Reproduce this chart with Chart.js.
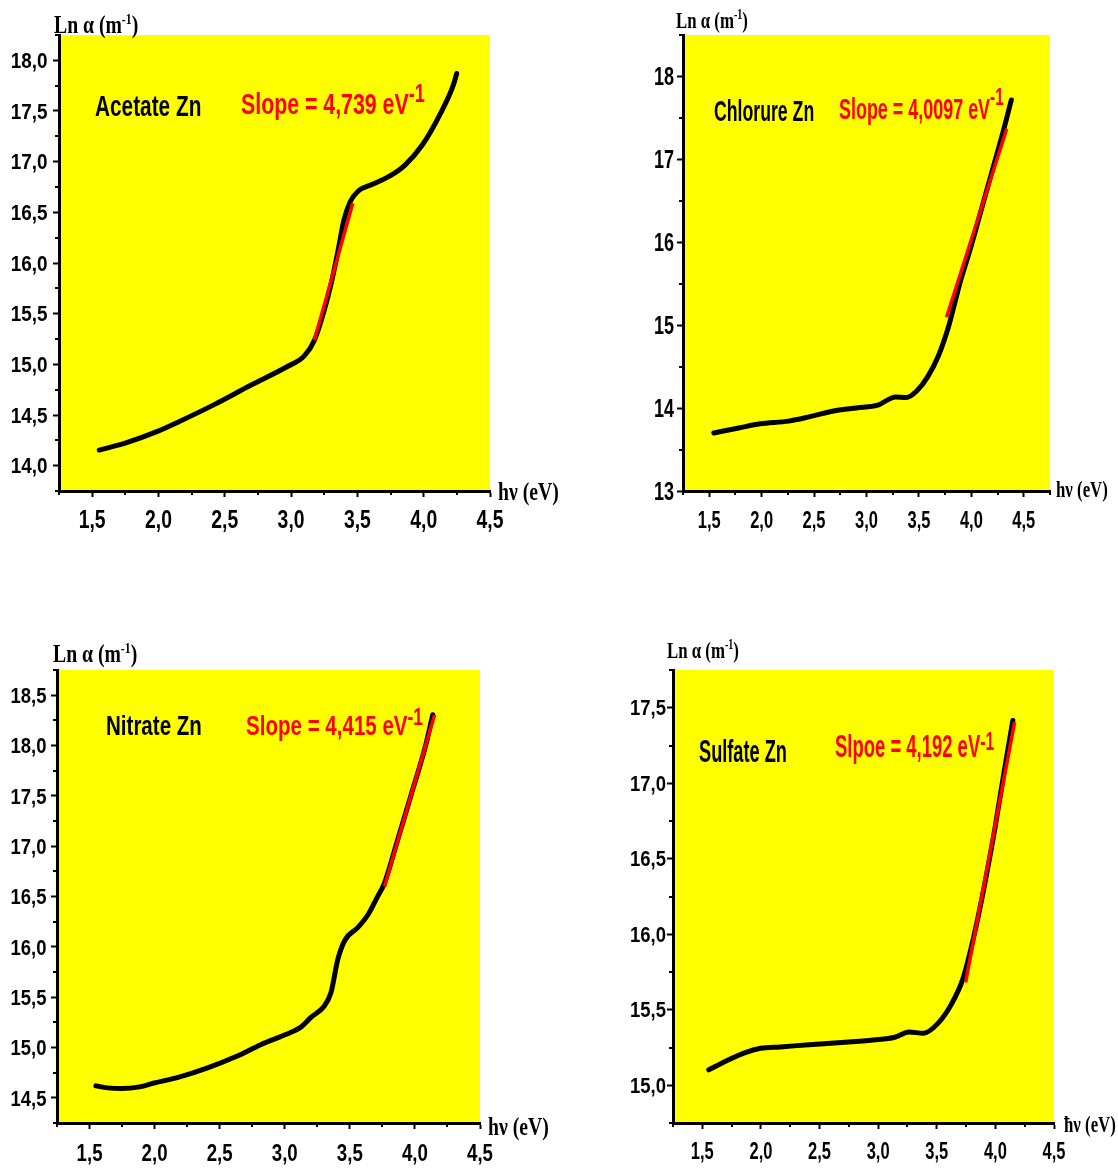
<!DOCTYPE html>
<html>
<head>
<meta charset="utf-8">
<script src="https://cdn.jsdelivr.net/npm/chart.js@4.4.1/dist/chart.umd.min.js"></script>
<style>
  html, body { margin: 0; padding: 0; background: #fff; }
  body { width: 1118px; height: 1169px; position: relative; overflow: hidden; }
  canvas { position: absolute; }
</style>
</head>
<body>
<canvas id="c1"></canvas>
<canvas id="c2"></canvas>
<canvas id="c3"></canvas>
<canvas id="c4"></canvas>
<script>
// ---- data (hv in eV, Ln alpha) ----
const acetateX = [1.554, 1.749, 1.992, 2.154, 2.424, 2.695, 2.965, 3.10, 3.176, 3.249, 3.303, 3.357, 3.397, 3.446, 3.505, 3.614, 3.749, 3.857, 3.992, 4.127, 4.222, 4.249];
const acetateY = [14.154, 14.222, 14.338, 14.434, 14.605, 14.793, 14.974, 15.084, 15.238, 15.528, 15.80, 16.14, 16.417, 16.605, 16.708, 16.776, 16.862, 16.964, 17.169, 17.477, 17.75, 17.87];
const acetateFitX = [3.176, 3.465];
const acetateFitY = [15.238, 16.59];

const chlorureX = [1.544, 1.782, 1.986, 2.258, 2.462, 2.70, 2.903, 3.107, 3.277, 3.379, 3.481, 3.583, 3.685, 3.787, 3.889, 3.99, 4.092, 4.194, 4.296, 4.381];
const chlorureY = [13.70, 13.76, 13.81, 13.843, 13.897, 13.968, 14.002, 14.035, 14.135, 14.127, 14.21, 14.377, 14.628, 15.003, 15.50, 15.92, 16.38, 16.84, 17.30, 17.716];
const chlorureFitX = [3.763, 4.337];
const chlorureFitY = [15.095, 17.37];

const nitrateX = [1.549, 1.637, 1.747, 1.885, 1.995, 2.187, 2.407, 2.626, 2.819, 3.011, 3.121, 3.203, 3.299, 3.354, 3.409, 3.464, 3.560, 3.643, 3.712, 3.766, 3.863, 3.973, 4.082, 4.137];
const nitrateY = [14.619, 14.599, 14.592, 14.609, 14.647, 14.705, 14.797, 14.91, 15.03, 15.131, 15.20, 15.302, 15.405, 15.541, 15.882, 16.07, 16.19, 16.326, 16.497, 16.633, 17.043, 17.52, 17.998, 18.305];
const nitrateFitX = [3.766, 4.151];
const nitrateFitY = [16.599, 18.305];

const sulfateX = [1.555, 1.708, 1.86, 1.997, 2.165, 2.409, 2.714, 2.959, 3.142, 3.264, 3.386, 3.508, 3.63, 3.722, 3.813, 3.905, 3.996, 4.072, 4.149];
const sulfateY = [15.102, 15.163, 15.215, 15.245, 15.254, 15.268, 15.284, 15.30, 15.318, 15.352, 15.345, 15.408, 15.544, 15.703, 15.975, 16.316, 16.701, 17.064, 17.416];
const sulfateFitX = [3.746, 4.164];
const sulfateFitY = [15.681, 17.405];

// tick labels
const xTicks = [1.5, 2.0, 2.5, 3.0, 3.5, 4.0, 4.5];
const yTicksAcetate = [14.0, 14.5, 15.0, 15.5, 16.0, 16.5, 17.0, 17.5, 18.0];
const yTicksChlorure = [13, 14, 15, 16, 17, 18];
const yTicksNitrate = [14.5, 15.0, 15.5, 16.0, 16.5, 17.0, 17.5, 18.0, 18.5];
const yTicksSulfate = [15.0, 15.5, 16.0, 16.5, 17.0, 17.5];

const sampleNames = ['Acetate Zn', 'Chlorure Zn', 'Nitrate Zn', 'Sulfate Zn'];
const slopeTexts = ['Slope = 4,739 eV', 'Slope = 4,0097 eV', 'Slope = 4,415 eV', 'Slpoe = 4,192 eV'];

// ---- layout of the four panels ----
const panels = [
  { id: 'c1', canvas: [0, 0, 559, 560], plot: [59, 35, 490, 491], x: [1.25, 4.5], y: [13.75, 18.25],
    yTicks: yTicksAcetate, yDec: 1, cx: acetateX, cy: acetateY, fx: acetateFitX, fy: acetateFitY,
    xLab: { sx: 0.88, sy: 1.14, dy: 36.5 }, yLab: { sx: 0.86, sy: 0.98, gap: 11.5 },
    nameAt: [36, 81], slopeAt: [182, 79], nameSx: 0.80, slopeSx: 0.82, textSy: 1.13, supRise: 12,
    titleSx: 0.82, titleSy: 1.08, yTitleAt: [-5, -2], xTitleAt: [8, 9] },
  { id: 'c2', canvas: [559, 0, 559, 560], plot: [683, 35, 1050, 491], x: [1.25, 4.75], y: [13, 18.5],
    yTicks: yTicksChlorure, yDec: 0, cx: chlorureX, cy: chlorureY, fx: chlorureFitX, fy: chlorureFitY,
    xLab: { sx: 0.75, sy: 1.08, dy: 36.5 }, yLab: { sx: 0.82, sy: 1.14, gap: 9 },
    nameAt: [31, 86], slopeAt: [156, 84], nameSx: 0.68, slopeSx: 0.69, textSy: 1.11, supRise: 14,
    titleSx: 0.70, titleSy: 0.98, yTitleAt: [-7, -7], xTitleAt: [6, 6] },
  { id: 'c3', canvas: [0, 560, 559, 609], plot: [57, 670, 480, 1123], x: [1.25, 4.5], y: [14.25, 18.75],
    yTicks: yTicksNitrate, yDec: 1, cx: nitrateX, cy: nitrateY, fx: nitrateFitX, fy: nitrateFitY,
    xLab: { sx: 0.85, sy: 1.08, dy: 37.5 }, yLab: { sx: 0.84, sy: 0.98, gap: 10.5 },
    nameAt: [49, 65], slopeAt: [189, 65], nameSx: 0.79, slopeSx: 0.79, textSy: 1.05, supRise: 10,
    titleSx: 0.82, titleSy: 1.08, yTitleAt: [-4, -8], xTitleAt: [8, 12] },
  { id: 'c4', canvas: [559, 560, 559, 609], plot: [673, 670, 1054, 1123], x: [1.25, 4.5], y: [14.75, 17.75],
    yTicks: yTicksSulfate, yDec: 1, cx: sulfateX, cy: sulfateY, fx: sulfateFitX, fy: sulfateFitY,
    xLab: { sx: 0.75, sy: 1.08, dy: 36 }, yLab: { sx: 0.84, sy: 0.98, gap: 7 },
    nameAt: [26, 92], slopeAt: [162, 87], nameSx: 0.70, slopeSx: 0.71, textSy: 1.18, supRise: 7,
    titleSx: 0.70, titleSy: 0.98, yTitleAt: [-6, -12], xTitleAt: [10, 9], hbar: true }
];

const X_AXIS_H = 40;
const sansFamily = 'Liberation Sans, Arial, sans-serif';
const serifFamily = 'Liberation Serif, Times New Roman, serif';

function pts(xs, ys) {
  return xs.map((x, i) => ({ x: x, y: ys[i] }));
}

function fmt(v, dec) {
  return v.toFixed(dec).replace('.', ',');
}

// text with superscripts, squeezed / stretched like the original figure
function drawRich(ctx, x, y, parts, family, size, sx, sy, color, align) {
  ctx.save();
  ctx.translate(x, y);
  ctx.scale(sx, sy);
  ctx.fillStyle = color;
  ctx.textBaseline = 'alphabetic';
  ctx.textAlign = 'left';
  let total = 0;
  parts.forEach(p => {
    ctx.font = 'bold ' + (size * (p.k || 1)) + 'px ' + family;
    total += ctx.measureText(p.t).width;
  });
  let px = align === 'center' ? -total / 2 : (align === 'right' ? -total : 0);
  parts.forEach(p => {
    ctx.font = 'bold ' + (size * (p.k || 1)) + 'px ' + family;
    ctx.fillText(p.t, px, -(p.rise || 0) / sy);
    px += ctx.measureText(p.t).width;
  });
  ctx.restore();
}

function minorValues(ticks, min, max) {
  const half = (ticks[1] - ticks[0]) / 2;
  const out = [];
  for (let v = ticks[0] - half; v <= max + 1e-9; v += half * 2) {
    if (v >= min - 1e-9) out.push(v);
  }
  return out;
}

const panelPlugin = {
  id: 'panelDeco',
  beforeDraw(chart) {
    const a = chart.chartArea, ctx = chart.ctx;
    ctx.save();
    ctx.fillStyle = '#ffff00';
    ctx.fillRect(a.left, a.top, a.right - a.left, a.bottom - a.top);
    ctx.restore();
  },
  afterDraw(chart) {
    const p = chart.options.plugins.panelDeco.panel;
    const i = chart.options.plugins.panelDeco.index;
    const a = chart.chartArea, ctx = chart.ctx;
    const xs = chart.scales.x, ys = chart.scales.y;

    // minor ticks
    ctx.save();
    ctx.strokeStyle = '#000';
    ctx.lineWidth = 2;
    minorValues(xTicks, p.x[0], p.x[1]).forEach(v => {
      const px = Math.round(xs.getPixelForValue(v));
      ctx.beginPath(); ctx.moveTo(px, a.bottom); ctx.lineTo(px, a.bottom + 4); ctx.stroke();
    });
    minorValues(p.yTicks, p.y[0], p.y[1]).forEach(v => {
      const py = Math.round(ys.getPixelForValue(v));
      ctx.beginPath(); ctx.moveTo(a.left, py); ctx.lineTo(a.left - 4, py); ctx.stroke();
    });
    ctx.restore();

    // tick labels (narrow bold, placed by the chart's scales)
    xs.ticks.forEach(t => {
      drawRich(ctx, xs.getPixelForValue(t.value), a.bottom + p.xLab.dy, [{ t: fmt(t.value, 1) }],
        sansFamily, 22, p.xLab.sx, p.xLab.sy, '#000', 'center');
    });
    ys.ticks.forEach(t => {
      const digitH = 22 * 0.716 * p.yLab.sy;
      drawRich(ctx, a.left - p.yLab.gap, ys.getPixelForValue(t.value) + digitH / 2, [{ t: fmt(t.value, p.yDec) }],
        sansFamily, 22, p.yLab.sx, p.yLab.sy, '#000', 'right');
    });

    // sample name and slope
    drawRich(ctx, a.left + p.nameAt[0], a.top + p.nameAt[1], [{ t: sampleNames[i] }],
      sansFamily, 26, p.nameSx, p.textSy, '#000');
    drawRich(ctx, a.left + p.slopeAt[0], a.top + p.slopeAt[1],
      [{ t: slopeTexts[i] }, { t: '-1', k: 0.85, rise: p.supRise }],
      sansFamily, 26, p.slopeSx, p.textSy, '#ff0000');

    // axis titles
    drawRich(ctx, a.left + p.yTitleAt[0], a.top + p.yTitleAt[1],
      [{ t: 'Ln \u03b1 (m' }, { t: '-1', k: 0.6, rise: 9 }, { t: ')' }],
      serifFamily, 24, p.titleSx, p.titleSy, '#000');
    drawRich(ctx, a.right + p.xTitleAt[0], a.bottom + p.xTitleAt[1],
      [{ t: (p.hbar ? '\u0127' : 'h') + '\u03bd (eV)' }],
      serifFamily, 24, p.titleSx, p.titleSy, '#000');
  }
};

panels.forEach((p, i) => {
  const cv = document.getElementById(p.id);
  cv.width = p.canvas[2];
  cv.height = p.canvas[3];
  cv.style.left = p.canvas[0] + 'px';
  cv.style.top = p.canvas[1] + 'px';
  cv.style.width = p.canvas[2] + 'px';
  cv.style.height = p.canvas[3] + 'px';

  const yAxisW = p.plot[0] - p.canvas[0];
  const padTop = p.plot[1] - p.canvas[1];
  const padRight = p.canvas[0] + p.canvas[2] - p.plot[2];
  const padBottom = p.canvas[1] + p.canvas[3] - p.plot[3] - X_AXIS_H;

  new Chart(cv.getContext('2d'), {
    type: 'scatter',
    data: {
      datasets: [
        {
          // measured curve
          data: pts(p.cx, p.cy),
          showLine: true,
          order: 1,
          borderColor: '#000',
          borderWidth: 5,
          borderCapStyle: 'round',
          borderJoinStyle: 'round',
          pointRadius: 0,
          cubicInterpolationMode: 'monotone'
        },
        {
          // linear fit, drawn on top
          data: pts(p.fx, p.fy),
          showLine: true,
          order: 0,
          borderColor: '#ff0000',
          borderWidth: 3.5,
          pointRadius: 0
        }
      ]
    },
    options: {
      responsive: false,
      animation: false,
      events: [],
      layout: { padding: { left: 0, top: padTop, right: padRight, bottom: padBottom } },
      plugins: {
        legend: { display: false },
        tooltip: { enabled: false },
        panelDeco: { panel: p, index: i }
      },
      scales: {
        x: {
          type: 'linear',
          min: p.x[0],
          max: p.x[1],
          afterBuildTicks: s => { s.ticks = xTicks.map(v => ({ value: v })); },
          afterFit: s => { s.height = X_AXIS_H; },
          border: { display: true, color: '#000', width: 3 },
          grid: { display: true, drawOnChartArea: false, drawTicks: true, tickLength: 6, tickWidth: 2, tickColor: '#000' },
          ticks: { display: false }
        },
        y: {
          type: 'linear',
          min: p.y[0],
          max: p.y[1],
          afterBuildTicks: s => { s.ticks = p.yTicks.map(v => ({ value: v })); },
          afterFit: s => { s.width = yAxisW; },
          border: { display: true, color: '#000', width: 3 },
          grid: { display: true, drawOnChartArea: false, drawTicks: true, tickLength: 6, tickWidth: 2, tickColor: '#000' },
          ticks: { display: false }
        }
      }
    },
    plugins: [panelPlugin]
  });
});
</script>
</body>
</html>
